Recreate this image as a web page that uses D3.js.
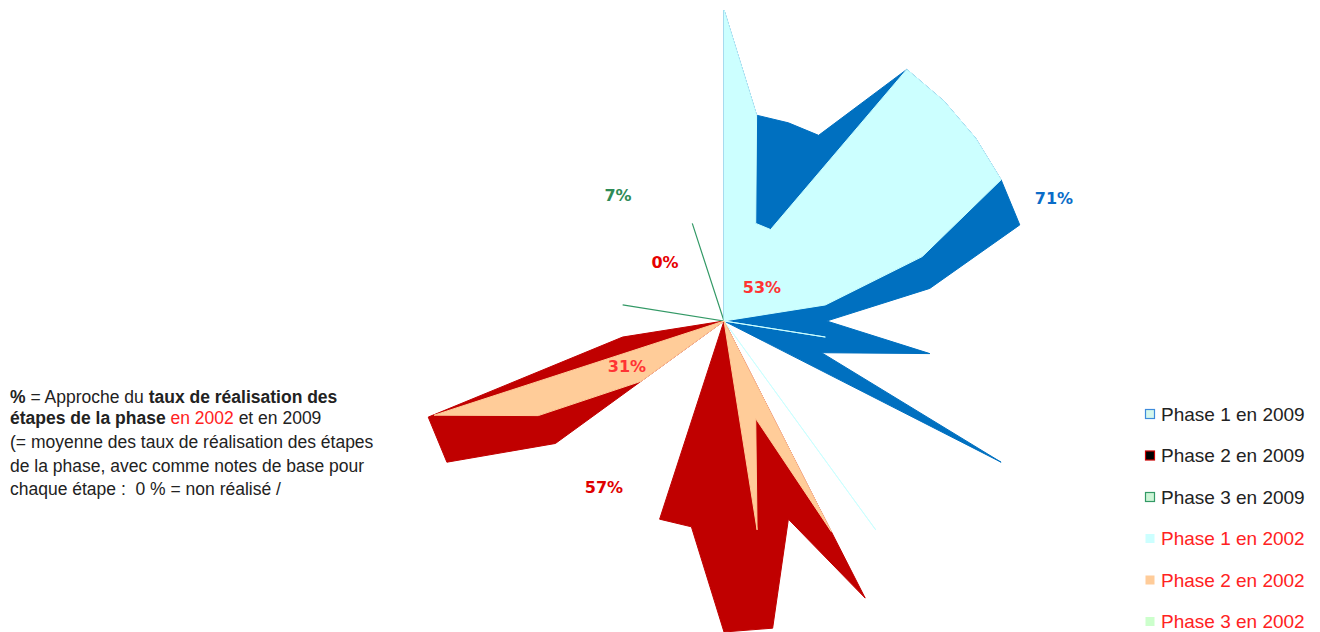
<!DOCTYPE html>
<html>
<head>
<meta charset="utf-8">
<script src="https://cdn.jsdelivr.net/npm/d3@7"></script>
<style>
  body { margin: 0; background: #fff; }
  svg { display: block; font-family: "Liberation Sans", Arial, sans-serif; }
</style>
</head>
<body>
<div id="chart"></div>
<script>
// one spoke per step (40 spokes, 9 degrees apart, starting at 12 o'clock)
const etapes = d3.range(1, 41).map(n => 'E' + n);

// taux de realisation (%) per step
const phase1_2009 = [100, 67, 67, 67, 100, 100, 100, 100, 100, 67,
                      33, 67, 33, 100,   0,   0,   0,   0,   0,  0,
                       0,  0,  0,   0,   0,   0,   0,   0,   0,  0,
                       0,  0,  0,   0,   0,   0,   0,   0,   0,  0];
const phase2_2009 = [  0,  0,  0,   0,   0,   0,   0,   0,   0,  0,
                       0,  0,  0,   0,   0,   0,   0, 100,  67, 100,
                     100, 67, 67,   0,   0,   0,  67, 100, 100, 33,
                       0,  0,  0,   0,   0,   0,   0,   0,   0,  0];
const phase3_2009 = [  0,  0,  0,   0,   0,   0,   0,   0,   0,  0,
                       0,  0,  0,   0,   0,   0,   0,   0,   0,  0,
                       0,  0,  0,   0,   0,   0,   0,   0,   0,  0,
                       0, 33,  0,   0,   0,   0,   0,   0,  33,  0];
const phase1_2002 = [100, 67, 33,  33, 100, 100, 100, 100,  67, 33,
                       0, 33,  0,   0,   0,   0,  83,   0,   0,  0,
                       0,  0,  0,   0,   0,   0,   0,   0,   0,  0,
                       0,  0,  0,   0,   0,   0,   0,   0,   0,  0];
const phase2_2002 = [  0,  0,  0,   0,   0,   0,   0,   0,   0,  0,
                       0,  0,  0,   0,   0,   0,   0,  76,  33, 68,
                       0,  0,  0,   0,   0,   0,  33,  67,  98,  0,
                       0,  0,  0,   0,   0,   0,   0,   0,   0,  0];
const phase3_2002 = [  0,  0,  0,   0,   0,   0,   0,   0,   0,  0,
                       0,  0,  0,   0,   0,   0,   0,   0,   0,  0,
                       0,  0,  0,   0,   0,   0,   0,   0,   0,  0,
                       0,  0,  0,   0,   0,   0,   0,   0,   0,  0];

const seriesNames = ['Phase 1 en 2009', 'Phase 2 en 2009', 'Phase 3 en 2009',
                     'Phase 1 en 2002', 'Phase 2 en 2002', 'Phase 3 en 2002'];
const seriesValues = [phase1_2009, phase2_2009, phase3_2009, phase1_2002, phase2_2002, phase3_2002];
const seriesColors = ['#0070C0', '#C00000', '#339966', '#CCFFFF', '#FFCC99', '#CCFFCC'];

// legend swatches (as in the original legend)
const legendFill = ['#D4F7EC', '#000000', '#CCF5D6', '#CCFFFF', '#FFCC99', '#CCFFCC'];
const legendStroke = ['#3D8BDB', '#CC0000', '#339966', 'none', 'none', 'none'];
const legendTextColor = ['#222', '#222', '#222', '#FF2222', '#FF2222', '#FF2222'];

// average labels
const avgLabels = ['71%', '57%', '7%', '53%', '31%', '0%'];
const avgColors = ['#0A6CC8', '#E00000', '#2E8B57', '#FF3333', '#FF3333', '#E60000'];

const width = 1320, height = 632;
const cx = 724, cy = 321, radius = 311;
const labelPos = [[1054, 198], [604, 487], [618, 195], [762, 287], [627, 366], [665, 262]];

const svg = d3.select('#chart')
  .append('svg')
  .attr('width', width)
  .attr('height', height);

const angle = d3.scaleLinear().domain([0, etapes.length]).range([0, 2 * Math.PI]);
const r = d3.scaleLinear().domain([0, 100]).range([0, radius]);

const radar = d3.lineRadial()
  .angle((d, i) => angle(i))
  .radius(d => r(d))
  .curve(d3.curveLinearClosed);

const plot = svg.append('g').attr('transform', `translate(${cx},${cy})`);

plot.selectAll('path.area')
  .data(seriesValues)
  .enter()
  .append('path')
  .attr('class', 'area')
  .attr('d', d => radar(d))
  .attr('fill', (d, i) => seriesColors[i])
  .attr('stroke', (d, i) => seriesColors[i])
  .attr('stroke-width', (d, i) => i === 2 ? 1.2 : 1)
  .attr('stroke-linejoin', 'miter');

svg.selectAll('text.avg')
  .data(avgLabels)
  .enter()
  .append('text')
  .attr('class', 'avg')
  .attr('x', (d, i) => labelPos[i][0])
  .attr('y', (d, i) => labelPos[i][1])
  .attr('text-anchor', 'middle')
  .attr('dominant-baseline', 'central')
  .attr('font-family', '"DejaVu Sans", Verdana, sans-serif')
  .attr('font-weight', 'bold')
  .attr('font-size', 16)
  .attr('fill', (d, i) => avgColors[i])
  .text(d => d);

// note on the left
const note = svg.append('g')
  .attr('font-size', 17.5)
  .attr('fill', '#222');

const noteLines = [
  [['%', true, null], [' = Approche du ', false, null], ['taux de réalisation des', true, null]],
  [['étapes de la phase', true, null], [' en 2002', false, '#FF2222'], [' et en 2009', false, null]],
  [['(= moyenne des taux de réalisation des étapes', false, null]],
  [['de la phase, avec comme notes de base pour', false, null]],
  [['chaque étape :  0 % = non réalisé /', false, null]]
];
const noteY = [403, 424, 448, 472, 495];

noteLines.forEach((parts, li) => {
  const t = note.append('text')
    .attr('x', 10)
    .attr('y', noteY[li])
    .attr('xml:space', 'preserve');
  parts.forEach(([txt, bold, col]) => {
    t.append('tspan')
      .attr('font-weight', bold ? 'bold' : 'normal')
      .attr('fill', col || '#222')
      .text(txt);
  });
});

// legend
const legend = svg.append('g').attr('transform', 'translate(1145, 414)');
const item = legend.selectAll('g')
  .data(seriesNames)
  .enter()
  .append('g')
  .attr('transform', (d, i) => `translate(0, ${i * 41.5})`);

item.append('rect')
  .attr('x', 0.5)
  .attr('y', -4.5)
  .attr('width', 9)
  .attr('height', 9)
  .attr('fill', (d, i) => legendFill[i])
  .attr('stroke', (d, i) => legendStroke[i])
  .attr('stroke-width', 1.2);

item.append('text')
  .attr('x', 16)
  .attr('y', 0)
  .attr('dominant-baseline', 'central')
  .attr('font-size', 19)
  .attr('fill', (d, i) => legendTextColor[i])
  .text(d => d);
</script>
</body>
</html>
